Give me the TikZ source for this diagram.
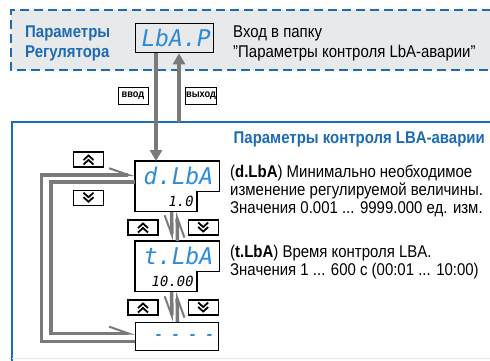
\documentclass[tikz,border=0pt]{standalone}
\usepackage{fontspec}
\setmainfont{Liberation Sans}[FakeStretch=0.88]
\newfontfamily\segfont{DejaVu Sans Mono}[FakeSlant=0.18]
\usetikzlibrary{arrows.meta, positioning, calc}
\definecolor{owenblue}{HTML}{1D6CB3}
\definecolor{segblue}{HTML}{2E8BD6}
\definecolor{flowgrey}{HTML}{7A7A7A}
\definecolor{panelgrey}{HTML}{E8E9EB}
\definecolor{rimgrey}{HTML}{DCE4EC}

\begin{document}
\begin{tikzpicture}[x=1pt, y=-1pt,
    panel/.style={draw=owenblue, line width=1.6pt},
    heading/.style={font=\bfseries\fontsize{17}{20}\selectfont, text=owenblue, align=left, inner sep=0pt, anchor=base west},
    note/.style={font=\fontsize{17}{18}\selectfont, align=left, inner sep=0pt, anchor=base west},
    dispbox/.style={draw, line width=1.3pt, inner sep=0pt, anchor=north west, text=segblue, font=\segfont\fontsize{23}{23}\selectfont},
    segtop/.style={inner sep=0pt, anchor=north west, minimum width=84pt, minimum height=30pt, text=segblue, font=\segfont\fontsize{23}{23}\selectfont},
    segval/.style={inner xsep=4pt, inner ysep=0pt, anchor=north east, text width=54pt, align=right, minimum height=20pt, font=\segfont\fontsize{14}{14}\selectfont},
    outline/.style={draw, line width=1.3pt, line join=miter},
    key/.style={draw, line width=1.2pt, minimum width=30pt, minimum height=15pt, inner sep=0pt},
    upkey/.style={key, path picture={
        \draw[line width=1.8pt] ($(path picture bounding box.center)+(-5,0.5)$) -- ++(5,-4.5) -- ++(5,4.5)
            ($(path picture bounding box.center)+(-5,5)$) -- ++(5,-4.5) -- ++(5,4.5);}},
    dnkey/.style={key, path picture={
        \draw[line width=1.8pt] ($(path picture bounding box.center)+(-5,-5)$) -- ++(5,4.5) -- ++(5,-4.5)
            ($(path picture bounding box.center)+(-5,-0.5)$) -- ++(5,4.5) -- ++(5,-4.5);}},
    tag/.style={draw, line width=1pt, font=\bfseries\fontsize{10.5}{10.5}\selectfont, minimum width=30pt, minimum height=17pt, inner sep=1pt},
    feed/.style={draw=flowgrey, line width=4pt, -{Triangle[length=11pt, width=12pt]}},
    flow/.style={draw=flowgrey, line width=3.5pt, -{Straight Barb[harpoon, length=20pt, width=14pt, line width=2pt]}},
    flowswap/.style={draw=flowgrey, line width=3.5pt, -{Straight Barb[harpoon, swap, length=20pt, width=14pt, line width=2pt]}}
]
    \useasboundingbox (0,0) rectangle (490,360);

    % upper folder
    \fill[panelgrey] (11,10) rectangle (491,70);
    \draw[panel, dash pattern=on 9pt off 5pt] (491,10) -- (11,10) -- (11,70) -- (491,70);
    \node[heading] (reghead) at (25,57) {Параметры\\Регулятора};
    \node[dispbox, minimum width=78pt, minimum height=29pt] (lbap) at (135,23) {LbA.P};
    \node[note, font=\fontsize{17}{20}\selectfont] (entrynote) at (233,57) {Вход в папку\\"Параметры контроля LbA-аварии"};

    % lower folder
    \coordinate (lowcorner) at (12,122);
    \draw[panel] (491,122) -- (lowcorner) -- (12,361);
    \draw[rimgrey, line width=1pt] (12,358.5) -- (490,358.5);
    \node[heading, anchor=base east] (lbahead) at (485,143) {Параметры контроля LBA-аварии};

    % displays
    \node[segtop] (dlba) at (135,161) {d.LbA};
    \node[segval] (dlbaval) at ($(dlba.south west)+(62,0)$) {1.0};
    \draw[outline] (dlba.south east) -- (dlba.north east) -- (dlba.north west) |- (dlbaval.south east) -- (dlbaval.north east) -- cycle;

    \node[segtop] (tlba) at (135,241) {t.LbA};
    \node[segval] (tlbaval) at ($(tlba.south west)+(62,0)$) {10.00};
    \draw[outline] (tlba.south east) -- (tlba.north east) -- (tlba.north west) |- (tlbaval.south east) -- (tlbaval.north east) -- cycle;

    \node[dispbox, minimum width=83pt, minimum height=28pt, text width=72pt, align=right, font=\segfont\bfseries\fontsize{14}{14}\selectfont] (dashes) at (135,322) {\spaceskip=8.6pt\relax - - - -};

    % enter / exit
    \draw[feed] ($(lbap.south west)+(21,0)$) -- ($(dlba.north west)+(21,0)$);
    \coordinate (exitfoot) at (179,122);
    \draw[feed] (exitfoot) -- (exitfoot |- lbap.south);
    \node[tag] (entrytag) at (133,95.5) {ввод};
    \node[tag] (exittag) at (201,95.5) {выход};

    % keys
    \node[upkey] (lupkey) at (88.5,159.5) {};
    \node[dnkey, below=22pt of lupkey] (ldnkey) {};
    \node[upkey] (upkeya) at (143,227.5) {};
    \node[dnkey, right=29pt of upkeya] (dnkeya) {};
    \node[upkey] (upkeyb) at (143,307.5) {};
    \node[dnkey, right=29pt of upkeyb] (dnkeyb) {};

    % steps between parameters
    \draw[flowswap] ($(dlbaval.south west)+(37,0)$) -- ($(tlba.north west)+(37,0)$);
    \draw[flowswap] ($(tlba.north west)+(42.5,0)$) -- ($(dlbaval.south west)+(42.5,0)$);
    \draw[flowswap] ($(tlbaval.south west)+(37,0)$) -- ($(dashes.north west)+(37,0)$);
    \draw[flowswap] ($(dashes.north west)+(42.5,0)$) -- ($(tlbaval.south west)+(42.5,0)$);
    \draw[flow] ([yshift=-5pt]dashes.west) -- ++(-93.5,0) |- ([yshift=1pt]dlba.west);
    \draw[flow] ([yshift=-6pt]dlba.west) -- ++(-84,0) |- ([yshift=3pt]dashes.west);

    % descriptions
    \node[note] (dlbanote) at (230,213) {(\textbf{d.LbA}) Минимально необходимое\\изменение регулируемой величины.\\Значения 0.001 ... 9999.000 ед. изм.};
    \node[note] (tlbanote) at (230,275) {(\textbf{t.LbA}) Время контроля LBA.\\Значения 1 ... 600 с (00:01 ... 10:00)};
\end{tikzpicture}
\end{document}
